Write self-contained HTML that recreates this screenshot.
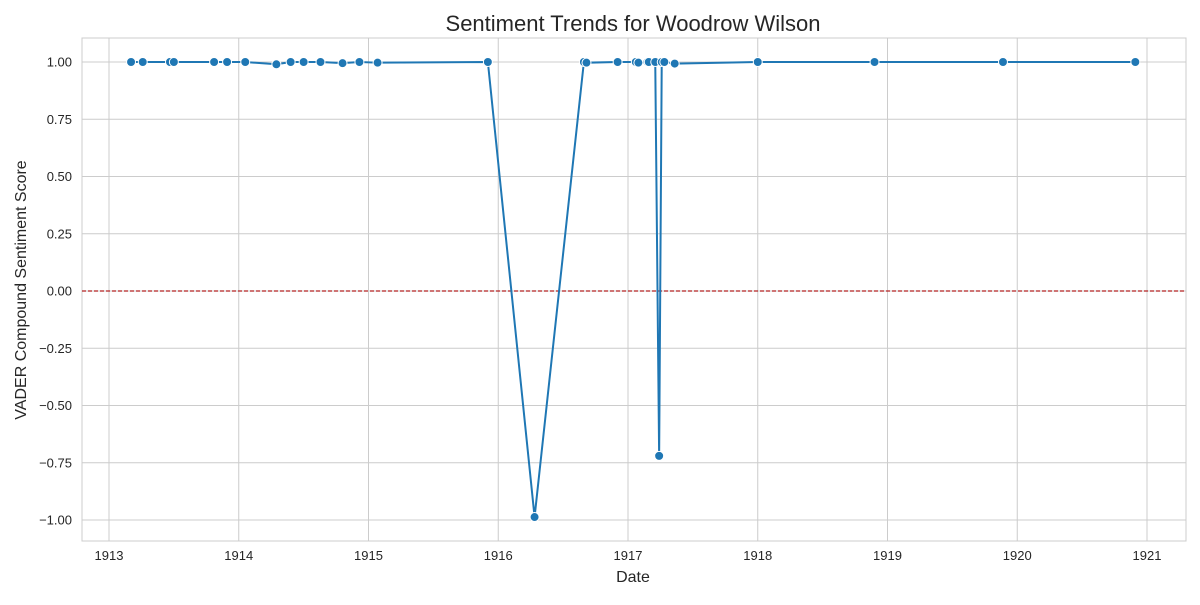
<!DOCTYPE html>
<html><head><meta charset="utf-8"><style>
body{margin:0;background:#fff;font-family:"Liberation Sans",Arial,sans-serif;}
svg text{font-family:"Liberation Sans",Arial,sans-serif;fill:#262626;}
</style></head><body>
<svg id="chart" width="1200" height="600" xmlns="http://www.w3.org/2000/svg">
<rect width="1200" height="600" fill="#fff"/>
<text x="633" y="31" font-size="22" text-anchor="middle">Sentiment Trends for Woodrow Wilson</text>
<g id="grid"></g>
<g id="axes"></g>
<line id="zero" stroke="#b22222" stroke-width="1.2" stroke-dasharray="4,2"/>
<g id="series"></g>
<text x="633" y="582" font-size="16" text-anchor="middle">Date</text>
<text transform="translate(26,290) rotate(-90)" font-size="16" text-anchor="middle">VADER Compound Sentiment Score</text>
</svg>
<script>
const dates=[1913.17,1913.26,1913.47,1913.50,1913.81,1913.91,1914.05,1914.29,1914.40,1914.50,1914.63,1914.80,1914.93,1915.07,1915.92,1916.28,1916.66,1916.68,1916.92,1917.06,1917.08,1917.15,1917.16,1917.21,1917.24,1917.26,1917.28,1917.36,1918.00,1918.90,1919.89,1920.91];
const scores=[1.0,1.0,1.0,1.0,1.0,1.0,1.0,0.99,1.0,1.0,1.0,0.995,1.0,0.997,1.0,-0.987,1.0,0.997,1.0,1.0,0.997,1.0,1.0,1.0,-0.72,1.0,1.0,0.993,1.0,1.0,1.0,1.0];
const xTicks=[1913,1914,1915,1916,1917,1918,1919,1920,1921];
const yTicks=[1.0,0.75,0.5,0.25,0,-0.25,-0.5,-0.75,-1.0];
const L=82,R=1186,T=38,B=541;
const xs=v=>109+(v-1913)*129.75;
const ys=v=>291-v*229;
const NS="http://www.w3.org/2000/svg";
function mk(tag,parent,attrs){const e=document.createElementNS(NS,tag);for(const k in attrs)e.setAttribute(k,attrs[k]);parent.appendChild(e);return e;}
const grid=document.getElementById('grid'),axes=document.getElementById('axes'),ser=document.getElementById('series');
xTicks.forEach(t=>{
 const g=mk('line',grid,{x1:xs(t),x2:xs(t),y1:T,y2:B,stroke:'#cccccc','stroke-width':1});
 
 
 const tx=mk('text',axes,{x:xs(t),y:B+19,'font-size':13,'text-anchor':'middle'});
 tx.textContent=t;
 
 
});
yTicks.forEach(t=>{
 const g=mk('line',grid,{x1:L,x2:R,y1:ys(t),y2:ys(t),stroke:'#cccccc','stroke-width':1});
 
 
 const tx=mk('text',axes,{x:L-10,y:ys(t)+4.5,'font-size':13,'text-anchor':'end'});
 tx.textContent=(t<0?'\u2212':'')+Math.abs(t).toFixed(2);
 
 
});
const fr=mk('rect',axes,{x:L,y:T,width:R-L,height:B-T,fill:'none',stroke:'#cccccc','stroke-width':1});


const z=document.getElementById('zero');
z.setAttribute('x1',L);z.setAttribute('x2',R);z.setAttribute('y1',ys(0));z.setAttribute('y2',ys(0));
const pl=mk('polyline',ser,{points:dates.map((d,i)=>xs(d)+','+ys(scores[i])).join(' '),fill:'none',stroke:'#1f77b4','stroke-width':2});


dates.forEach((d,i)=>{
 const c=mk('circle',ser,{cx:xs(d),cy:ys(scores[i]),r:4.5,fill:'#1f77b4',stroke:'#fff','stroke-width':1});
 
 
});
</script>
</body></html>
